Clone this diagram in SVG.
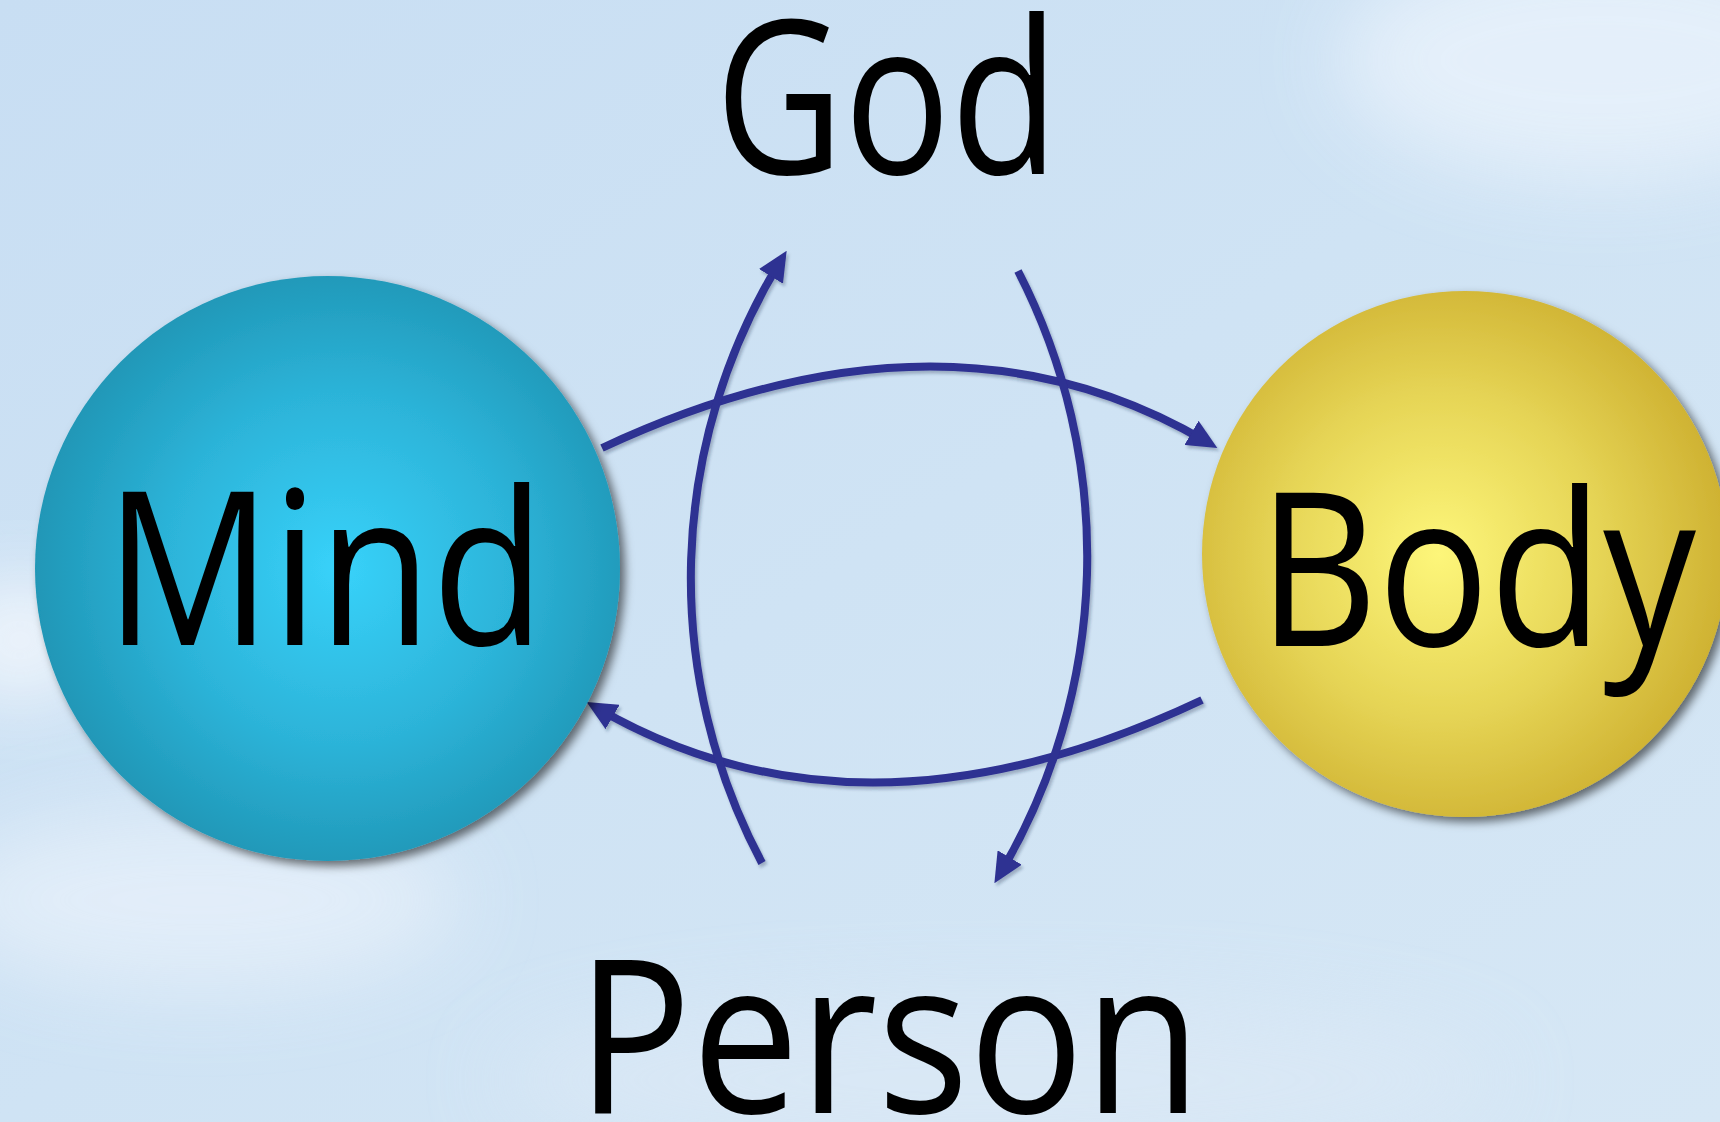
<svg xmlns="http://www.w3.org/2000/svg" width="1720" height="1122" viewBox="0 0 1720 1122">
  <defs>
    <linearGradient id="sky" x1="0" y1="0" x2="1" y2="1">
      <stop offset="0" stop-color="#c8def3"/>
      <stop offset="0.5" stop-color="#cfe3f4"/>
      <stop offset="1" stop-color="#d6e7f5"/>
    </linearGradient>
    <radialGradient id="mindGrad" cx="0.52" cy="0.5" r="0.55">
      <stop offset="0" stop-color="#38d2fa"/>
      <stop offset="0.55" stop-color="#2cb3d8"/>
      <stop offset="1" stop-color="#1e93b2"/>
    </radialGradient>
    <radialGradient id="bodyGrad" cx="0.45" cy="0.5" r="0.55">
      <stop offset="0" stop-color="#fdf67a"/>
      <stop offset="0.55" stop-color="#e6d556"/>
      <stop offset="1" stop-color="#cfb232"/>
    </radialGradient>
    <filter id="ballShadow" x="-20%" y="-20%" width="140%" height="140%">
      <feDropShadow dx="5" dy="5" stdDeviation="5" flood-color="#000" flood-opacity="0.55"/>
    </filter>
    <filter id="lineShadow" filterUnits="userSpaceOnUse" x="0" y="0" width="1720" height="1122">
      <feDropShadow dx="2" dy="3" stdDeviation="1.5" flood-color="#1a3050" flood-opacity="0.3"/>
    </filter>
    <filter id="cloud" x="-50%" y="-50%" width="200%" height="200%">
      <feGaussianBlur stdDeviation="40"/>
    </filter>
    <marker id="arrow" viewBox="0 0 30 28" refX="18" refY="14" markerWidth="30" markerHeight="28" markerUnits="userSpaceOnUse" orient="auto">
      <path d="M0,0 L30,14 L0,28 z" fill="#2e3092"/>
    </marker>
  </defs>
  <style>
    .lbl { font-family: "Open Sans", "Noto Sans", "DejaVu Sans", sans-serif; font-size: 214px; fill: #000; text-anchor: middle; }
    .conn { fill: none; stroke: #2e3092; stroke-width: 8; }
  </style>

  <g id="background">
    <rect x="0" y="0" width="1720" height="1122" fill="url(#sky)"/>
    <ellipse cx="1600" cy="60" rx="260" ry="120" fill="#eaf3fc" opacity="0.8" filter="url(#cloud)"/>
    <ellipse cx="20" cy="640" rx="80" ry="60" fill="#f4f8fd" opacity="0.9" filter="url(#cloud)"/>
    <ellipse cx="200" cy="900" rx="260" ry="90" fill="#e6f0fa" opacity="0.8" filter="url(#cloud)"/>
    <ellipse cx="1000" cy="1080" rx="500" ry="80" fill="#dce9f6" opacity="0.7" filter="url(#cloud)"/>
  </g>

  <g id="connectors" filter="url(#lineShadow)">
    <path class="conn" marker-end="url(#arrow)" d="M602,448 Q944.5,288 1207,442"/>
    <path class="conn" marker-end="url(#arrow)" d="M1202,700 Q861.5,861 597,708"/>
    <path class="conn" marker-end="url(#arrow)" d="M762,863 A606,606 0 0 1 780.4,261"/>
    <path class="conn" marker-end="url(#arrow)" d="M1018,271 A622,622 0 0 1 1000.5,873"/>
  </g>

  <g id="mind">
    <circle cx="327.5" cy="568.5" r="292.5" fill="url(#mindGrad)" filter="url(#ballShadow)"/>
    <text class="lbl" x="325" y="645" textLength="440" lengthAdjust="spacingAndGlyphs">Mind</text>
  </g>

  <g id="body">
    <circle cx="1465" cy="554" r="263" fill="url(#bodyGrad)" filter="url(#ballShadow)"/>
    <text class="lbl" x="1477" y="646" textLength="438" lengthAdjust="spacingAndGlyphs">Body</text>
  </g>

  <g id="god">
    <text class="lbl" x="887" y="174" textLength="344" lengthAdjust="spacingAndGlyphs">God</text>
  </g>

  <g id="person">
    <text class="lbl" x="889" y="1113" textLength="625" lengthAdjust="spacingAndGlyphs">Person</text>
  </g>
</svg>
